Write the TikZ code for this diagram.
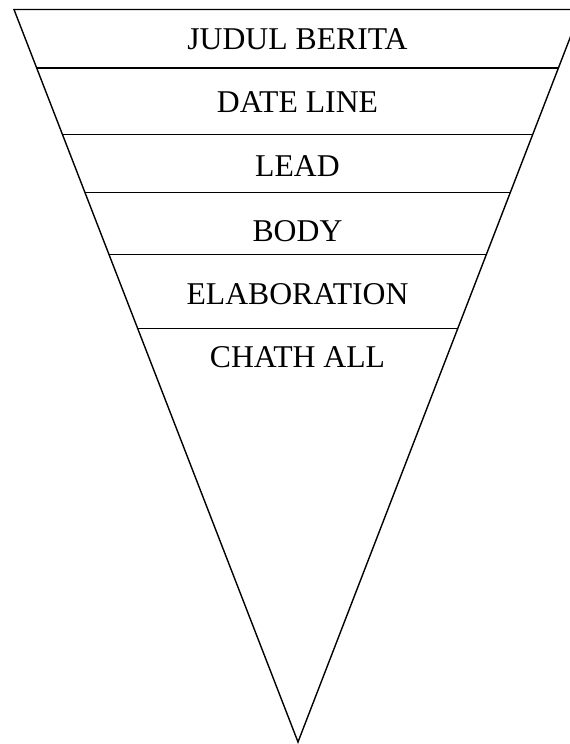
\documentclass[tikz,border=0pt]{standalone}
\usepackage{fontspec}
\setmainfont{Liberation Serif}
\usetikzlibrary{calc}
\begin{document}
\begin{tikzpicture}[x=1pt,y=-1pt,
  edge/.style={line width=1.4pt,black},
  label/.style={anchor=base,inner sep=0pt,font=\fontsize{31.7}{36}\selectfont}]
\useasboundingbox (0,0) rectangle (570,744);
\clip (0,0) rectangle (570,744);
\coordinate (tl) at (14,9.5);
\coordinate (tr) at (581,9.5);
\coordinate (apex) at (298,742);
\draw[edge,line join=miter] (tr) -- (tl) -- (apex) -- cycle;
\foreach \t/\n in {0.0799/a,0.1706/b,0.2501/c,0.3348/d,0.4352/e}{
  \draw[edge] ($(tl)!\t!(apex)$) coordinate (l\n) -- ($(tr)!\t!(apex)$) coordinate (r\n);
}
\node[label] (judul) at (297.5,49.3) {JUDUL BERITA};
\node[label] (date) at (297.5,112.7) {DATE LINE};
\node[label] (lead) at (297.5,176) {LEAD};
\node[label] (body) at (297.5,241) {BODY};
\node[label] (elab) at (297.5,304) {ELABORATION};
\node[label] (chath) at (297.5,367) {CHATH ALL};
\end{tikzpicture}
\end{document}
